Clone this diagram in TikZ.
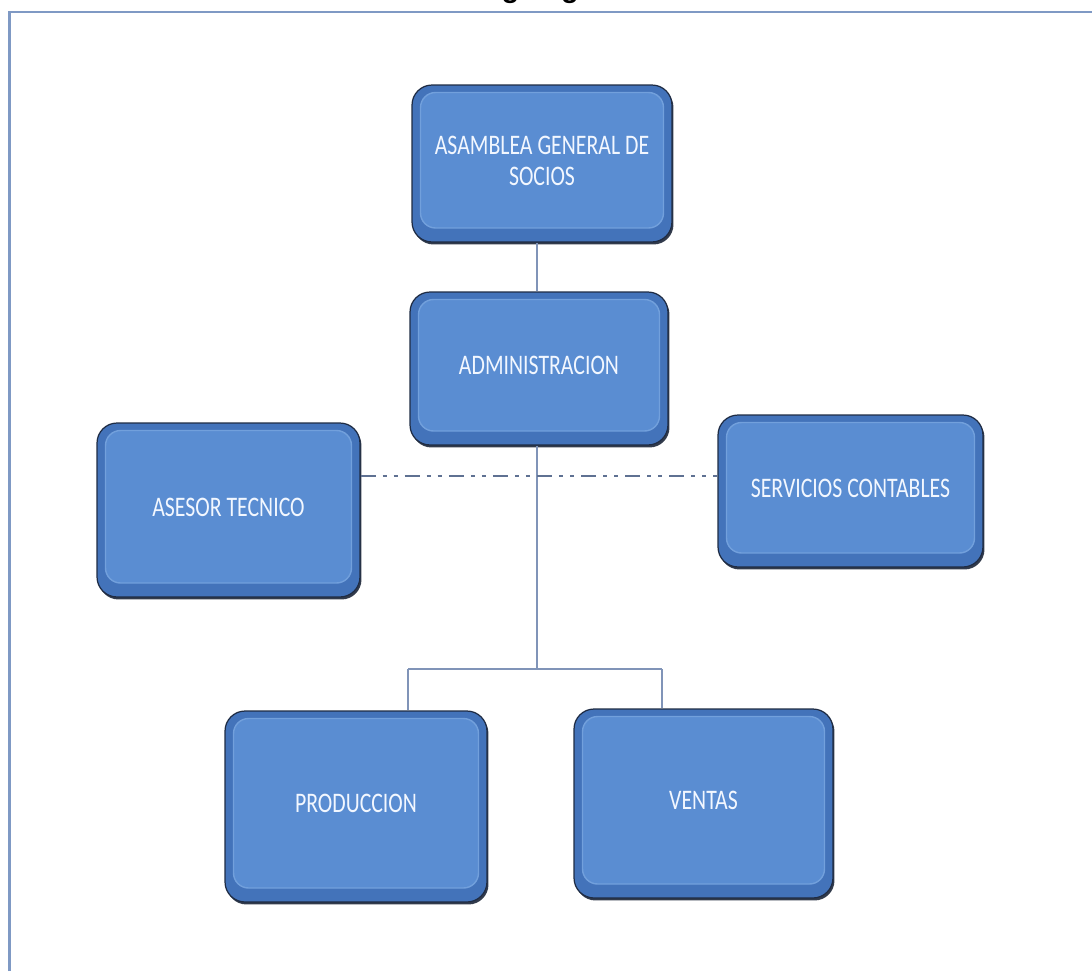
\documentclass[tikz,border=0pt]{standalone}
\usepackage{fontspec}
\setmainfont{Carlito}
\newfontfamily\titlefont{Liberation Sans}
\usetikzlibrary{shadows}
\definecolor{shadowcol}{HTML}{1C2638}
\definecolor{outercol}{HTML}{4373BA}
\definecolor{edgecol}{HTML}{1F2C44}
\definecolor{facecol}{HTML}{5A8DD2}
\definecolor{hilite}{HTML}{72A0DC}
\definecolor{linecol}{HTML}{8094B8}
\definecolor{dashcol}{HTML}{5F7192}
\definecolor{framecol}{HTML}{7F99C4}
\definecolor{txtcol}{HTML}{F2F7FF}
\tikzset{
  orgbox/.style={
    rectangle, rounded corners=0.4cm, inner sep=0pt,
    fill=outercol, draw=edgecol, line width=0.7pt,
    drop shadow={shadow xshift=0.03cm, shadow yshift=-0.05cm, fill=shadowcol, opacity=0.9},
    text=txtcol, align=center,
    font=\fontsize{12.4}{13.5}\selectfont,
    path picture={
      \fill[facecol, draw=hilite, line width=0.8pt, rounded corners=0.3cm]
        ([shift={(0.17cm,-0.15cm)}]path picture bounding box.north west) rectangle
        ([shift={(-0.17cm,0.28cm)}]path picture bounding box.south east);
    }
  },
  conn/.style={draw=linecol, line width=0.9pt},
  dashconn/.style={draw=dashcol, line width=1.4pt,
    dash pattern=on 8.5pt off 4pt on 2.3pt off 4pt on 2.3pt off 4pt}
}
\newcommand{\boxtxt}[1]{\scalebox{1}[1.3]{\begin{tabular}{@{}c@{}}#1\end{tabular}}}
\begin{document}
\begin{tikzpicture}[x=0.02cm, y=-0.02cm]
\useasboundingbox (0,0) rectangle (1092,971);
\begin{scope}
\clip (0,0) rectangle (1092,971);
\node[font=\titlefont\bfseries\fontsize{16.5}{18}\selectfont, anchor=base, inner sep=0pt] (title) at (558,-3) {Organigrama};
\end{scope}
% frame
\draw[framecol, line width=1.2pt] (9.5,971) -- (9.5,12) -- (1092,12);

% boxes
\node[orgbox, minimum width=5.2cm, minimum height=3.14cm] (asamblea) at (542,163.5)
  {\boxtxt{ASAMBLEA GENERAL DE\\SOCIOS}};
\node[orgbox, minimum width=5.16cm, minimum height=3.06cm] (admin) at (539,368.5)
  {\boxtxt{ADMINISTRACION}};
\node[orgbox, minimum width=5.26cm, minimum height=3.48cm] (asesor) at (228.5,510)
  {\raisebox{0.15cm}{\boxtxt{ASESOR TECNICO}}};
\node[orgbox, minimum width=5.3cm, minimum height=3.04cm] (servicios) at (850.5,491)
  {\boxtxt{SERVICIOS CONTABLES}};
\node[orgbox, minimum width=5.24cm, minimum height=3.82cm] (prod) at (356,806.5)
  {\boxtxt{PRODUCCION}};
\node[orgbox, minimum width=5.18cm, minimum height=3.78cm] (ventas) at (703.5,803.5)
  {\boxtxt{VENTAS}};

% connectors
\coordinate (bus) at (537,669);
\coordinate (bl) at (408,669);
\coordinate (br) at (662,669);
\coordinate (dd) at (0,476);
\coordinate (top) at (537,0);
\draw[conn] (asamblea.south -| top) -- (admin.north -| top);
\draw[conn] (admin.south -| top) -- (bus);
\draw[conn] (bl) -- (br);
\draw[conn] (bl) -- (bl |- prod.north);
\draw[conn] (br) -- (br |- ventas.north);
\draw[dashconn] (asesor.east |- dd) -- (servicios.west |- dd);
\end{tikzpicture}
\end{document}
